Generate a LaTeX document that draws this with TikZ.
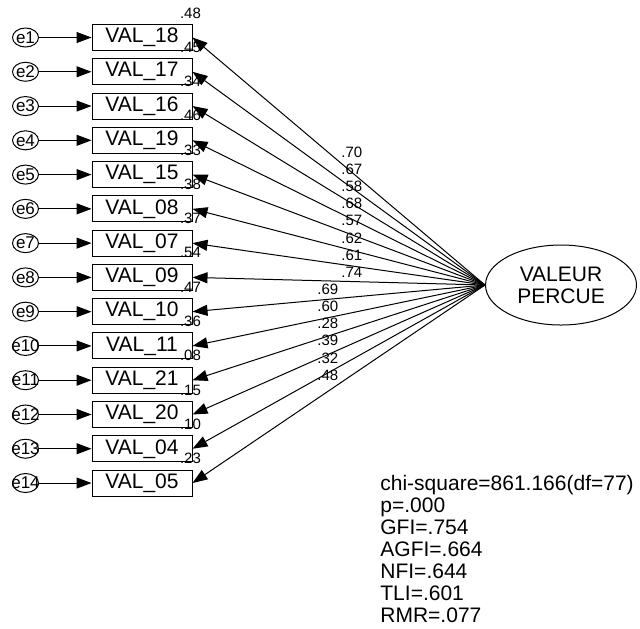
\documentclass[tikz,border=0pt]{standalone}
\usepackage{fontspec}
\setmainfont{Liberation Sans}
\usetikzlibrary{arrows.meta,shapes.geometric}

\tikzset{
  obsbox/.style={draw, line width=0.5pt, minimum width=50pt, minimum height=13pt, inner sep=0pt},
  errcirc/.style={draw, ellipse, line width=0.5pt, minimum width=13pt, minimum height=9.5pt, inner sep=0pt},
  latent/.style={draw, ellipse, line width=0.5pt, minimum width=75.5pt, minimum height=40pt, align=center},
  arr/.style={line width=0.5pt, -{Triangle[length=7.5pt,width=5.5pt]}},
  small/.style={font=\fontsize{7.5}{8}\selectfont, inner sep=0pt}
}

\begin{document}
\begin{tikzpicture}[x=0.5pt, y=-0.5pt, font=\fontsize{10.5}{11}\selectfont]
\useasboundingbox (0,0) rectangle (640,628);
% latent factor
\node[latent] (vp) at (561,285) {VALEUR\\PERCUE};
% indicators, errors and loadings
\foreach \v/\r/\l [count=\i] in {18/.48/.70, 17/.45/.67, 16/.34/.58, 19/.46/.68, 15/.33/.57,
    08/.38/.62, 07/.37/.61, 09/.54/.74, 10/.47/.69, 11/.36/.60, 21/.08/.28, 20/.15/.39,
    04/.10/.32, 05/.23/.48} {
  \pgfmathsetmacro\yy{37.5+34.27*(\i-1)}
  \pgfmathsetmacro\dx{\i<9 ? 6.5 : -5.5}
  \node[obsbox] (b\i) at (142,\yy) {VAL\_\v};
  \node[errcirc, label={[font=\fontsize{8.5}{9}\selectfont, inner sep=0pt]center:e\i}] (e\i) at (25.5,\yy) {};
  \node[small] at ([shift={(-2,-11)}]b\i.north east) {\r};
  \draw[arr] (e\i) -- (b\i);
  \draw[arr] (vp.west) -- (b\i.east) node[small, pos=0.5, xshift=\dx pt, yshift=4.5pt] {\l};
}
% fit indices
\node[anchor=north west, inner sep=0pt, align=left] (fit) at (380,475)
  {chi-square=861.166(df=77)\\p=.000\\GFI=.754\\AGFI=.664\\NFI=.644\\TLI=.601\\RMR=.077};
\end{tikzpicture}
\end{document}
